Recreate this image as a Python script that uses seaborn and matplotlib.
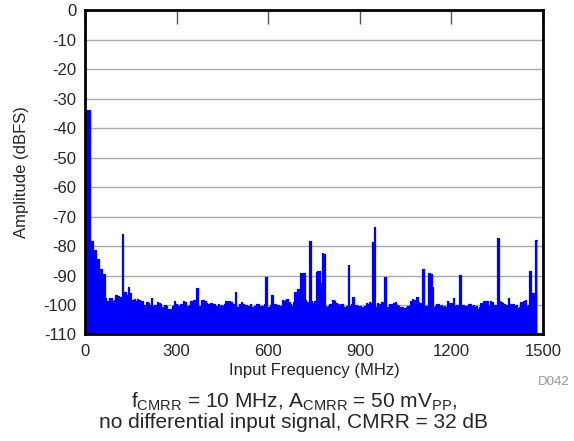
import numpy as np
import matplotlib
matplotlib.use("Agg")
import matplotlib.pyplot as plt
import seaborn as sns

# =========================================================
# DATA (5 MHz bins starting at 0 MHz)
# =========================================================

BIN_MHZ = 5
amplitude_dbfs = [
    # 0 - 95 MHz
    -34, -34, -34, -78.2, -78.2, -81.5, -81.5, -84.4, -84.4, -87.8,
    -87.8, -89.4, -89.4, -97.6, -98.5, -98.5, -97.5, -97.6, -98.5, -98.4,
    # 100 - 195
    -96.6, -96.8, -97.6, -97.4, -76, -95.7, -95.7, -96.5, -94, -96.0,
    -98.4, -98.2, -98, -98.5, -98, -98.2, -98.6, -98.8, -100, -100,
    # 200 - 295
    -99, -99.2, -100, -97.6, -100.3, -100, -100, -98.9, -99.2, -99.5,
    -100.8, -100.8, -100, -100.2, -101.4, -101.4, -101.2, -100.5, -98.5, -99.6,
    # 300 - 395
    -100, -100.2, -99.8, -99.6, -98.6, -99.0, -100.6, -100.5, -100, -98.5,
    -99.2, -98.3, -98.6, -94.3, -100.3, -100.3, -98.3, -98.3, -98.8, -99.4,
    # 400 - 495
    -99.8, -99.5, -99.2, -99.5, -99.8, -100.6, -100.3, -99.8, -100.3, -100,
    -100.4, -99.6, -98.8, -99.3, -98.8, -99, -99.5, -99.8, -95.6, -100.6,
    # 500 - 595
    -100.6, -99.5, -99.0, -99.5, -100.3, -100.0, -100.5, -100.3, -99.8, -100.6,
    -100.9, -100.4, -99.5, -99.8, -100.3, -100.6, -100.3, -99.8, -90.6, -100.6,
    # 600 - 695
    -100.6, -100.0, -96.5, -100, -99.5, -100.3, -100.0, -102.3, -100.3, -98.3,
    -98.8, -98.3, -98.1, -99.0, -99.5, -100.2, -99.0, -95.5, -98.4, -94.6,
    # 700 - 795
    -98.0, -89.3, -98.5, -89.3, -98.3, -98.9, -99.2, -78.2, -98.8, -99.2,
    -98.8, -88.7, -88.4, -88.4, -92.6, -82.3, -82.6, -100.3, -100.7, -100.2,
    # 800 - 895
    -99.5, -99.8, -98.3, -98.6, -99.3, -99.6, -99.9, -99.6, -99.5, -100.6,
    -100.6, -100.2, -86.4, -100.3, -99.8, -97.2, -100.3, -100.0, -100.6, -100.3,
    # 900 - 995
    -100.3, -100.6, -100.7, -100.4, -99.3, -99.6, -99, -99.2, -78.5, -73.7,
    -100.7, -99.3, -99.6, -100.3, -99, -99.4, -90.6, -100.7, -100.7, -99.5,
    # 1000 - 1095
    -99.5, -100.6, -99.4, -99, -99.9, -100.2, -100.6, -100.6, -101.1, -101.1,
    -100.7, -100.4, -100.3, -98.6, -98.1, -98.3, -99.0, -97.2, -99, -99.3,
    # 1100 - 1195
    -100.0, -87.8, -100.6, -100.3, -100.6, -89.3, -89.6, -94, -100.6, -100.3,
    -99.5, -99.8, -100.3, -100.0, -100.7, -100.4, -100.7, -98.8, -99.2, -99.3,
    # 1200 - 1295
    -99.3, -97.6, -100.3, -100.0, -100.3, -89.8, -100.3, -100.0, -100.7, -100.4,
    -100.7, -99.5, -99.8, -100.3, -100.0, -100.7, -100.4, -101.2, -100.8, -99.3,
    # 1300 - 1395
    -99.3, -98.5, -98.8, -98.5, -100.3, -98.8, -99.1, -100.3, -100.0, -100.3,
    -77.2, -98.8, -99.1, -99.3, -99.6, -100.3, -100.0, -97.6, -99.5, -100.0,
    # 1400 - 1475
    -99.5, -100.3, -100.0, -101.1, -100.8, -99.0, -99.3, -98.8, -98.3, -100.3,
    -100.0, -88.5, -95.8, -95.8, -96.0, -78,
]

Y_TICKS = list(range(0, -120, -10))
X_TICKS = [0, 300, 600, 900, 1200, 1500]
Y_MIN, Y_MAX = -110, 0
X_MIN, X_MAX = 0, 1500

# bin edges for a step trace
freq_mhz = np.arange(len(amplitude_dbfs) + 1) * BIN_MHZ
amp_step = np.array(amplitude_dbfs + [amplitude_dbfs[-1]])

# =========================================================
# PLOT
# =========================================================

sns.set_style("white")
plt.rcParams['font.family'] = ['Liberation Sans', 'DejaVu Sans']
plt.rcParams['mathtext.fontset'] = 'custom'
plt.rcParams['mathtext.rm'] = 'Liberation Sans'
plt.rcParams['mathtext.it'] = 'Liberation Sans:italic'

fig = plt.figure(figsize=(5.74, 4.41), dpi=100)
ax = fig.add_axes([0.148, 0.2415, 0.798, 0.7355])

ax.fill_between(freq_mhz, amp_step, Y_MIN, step='post', color='#0000ff',
                linewidth=0, zorder=3)
sns.lineplot(x=freq_mhz, y=amp_step, drawstyle='steps-post', color='#0000ff',
             linewidth=0.9, ax=ax, zorder=4, sort=False, estimator=None)

ax.set_xlim(X_MIN, X_MAX)
ax.set_ylim(Y_MIN, Y_MAX)
ax.set_xticks(X_TICKS)
ax.set_yticks(Y_TICKS)
ax.set_yticklabels([str(t) for t in Y_TICKS])

ax.yaxis.grid(True, color='#aaaaaa', linewidth=1.0, zorder=1)
ax.xaxis.grid(False)
ax.set_axisbelow(True)

for side in ['left', 'right', 'top', 'bottom']:
    ax.spines[side].set_visible(True)
    ax.spines[side].set_color('black')
    ax.spines[side].set_linewidth(2.0)
    ax.spines[side].set_zorder(5)

ax.tick_params(axis='x', direction='in', top=True, bottom=True, length=10,
               width=1, color='#555555', labelsize=12, pad=7)
ax.tick_params(axis='y', length=0, labelsize=12, pad=6)

ax.set_xlabel("Input Frequency (MHz)", fontsize=12, labelpad=3)
ax.set_ylabel("Amplitude (dBFS)", fontsize=12, labelpad=10)

fig.text(0.993, 0.134, "D042", fontsize=9.5, color='#999999', ha='right', va='center')
fig.text(0.512, 0.089,
         r"f$_{\mathrm{CMRR}}$ = 10 MHz, A$_{\mathrm{CMRR}}$ = 50 mV$_{\mathrm{PP}}$,",
         fontsize=15, ha='center', va='center')
fig.text(0.512, 0.041, "no differential input signal, CMRR = 32 dB",
         fontsize=15, ha='center', va='center')

plt.savefig("out.png", dpi=100)
